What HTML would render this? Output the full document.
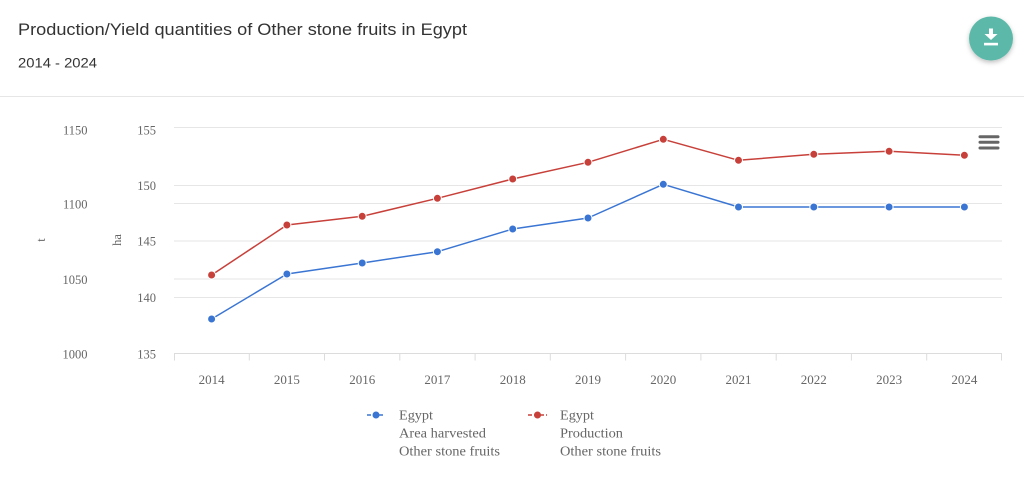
<!DOCTYPE html>
<html><head><meta charset="utf-8"><style>
html,body{margin:0;padding:0;background:#fff;}
svg{display:block;}
</style></head><body>
<svg width="1024" height="489" viewBox="0 0 1024 489" xmlns="http://www.w3.org/2000/svg">
<defs>
<filter id="sh" x="-50%" y="-50%" width="200%" height="200%"><feDropShadow dx="0" dy="2" stdDeviation="2.5" flood-color="#000" flood-opacity="0.25"/></filter>
</defs>
<rect width="1024" height="489" fill="#fff"/>
<text x="18" y="35" font-family="Liberation Sans, sans-serif" font-size="16.5" fill="#333" textLength="449" lengthAdjust="spacingAndGlyphs">Production/Yield quantities of Other stone fruits in Egypt</text>
<text x="18" y="67.5" font-family="Liberation Sans, sans-serif" font-size="13.5" fill="#333" textLength="79" lengthAdjust="spacingAndGlyphs">2014 - 2024</text>
<line x1="0" y1="96.5" x2="1024" y2="96.5" stroke="#e6e6e6" stroke-width="1"/>
<!-- download button -->
<circle cx="991" cy="38.5" r="22" fill="#5cb9a9" filter="url(#sh)"/>
<rect x="989" y="28.5" width="4" height="6" fill="#fff"/>
<polygon points="984.5,34 997.5,34 991,40" fill="#fff"/>
<rect x="984" y="42.8" width="14" height="2.6" fill="#fff"/>
<!-- gridlines -->
<g stroke="#e6e6e6" stroke-width="1">
<line x1="174" y1="127.5" x2="1002" y2="127.5"/>
<line x1="174" y1="185.5" x2="1002" y2="185.5"/>
<line x1="174" y1="203.5" x2="1002" y2="203.5"/>
<line x1="174" y1="241" x2="1002" y2="241"/>
<line x1="174" y1="279" x2="1002" y2="279"/>
<line x1="174" y1="297.5" x2="1002" y2="297.5"/>
</g>
<line x1="174" y1="353.5" x2="1002" y2="353.5" stroke="#dcdcdc" stroke-width="1"/>
<g stroke="#dcdcdc" stroke-width="1">
<line x1="174.5" y1="353.5" x2="174.5" y2="360.5"/>
<line x1="249.3" y1="353.5" x2="249.3" y2="360.5"/>
<line x1="324.5" y1="353.5" x2="324.5" y2="360.5"/>
<line x1="399.8" y1="353.5" x2="399.8" y2="360.5"/>
<line x1="475.1" y1="353.5" x2="475.1" y2="360.5"/>
<line x1="550.3" y1="353.5" x2="550.3" y2="360.5"/>
<line x1="625.6" y1="353.5" x2="625.6" y2="360.5"/>
<line x1="700.9" y1="353.5" x2="700.9" y2="360.5"/>
<line x1="776.2" y1="353.5" x2="776.2" y2="360.5"/>
<line x1="851.4" y1="353.5" x2="851.4" y2="360.5"/>
<line x1="926.7" y1="353.5" x2="926.7" y2="360.5"/>
<line x1="1001.5" y1="353.5" x2="1001.5" y2="360.5"/>
</g>
<!-- y axis labels -->
<g font-family="Liberation Serif, serif" font-size="12.5" fill="#666" text-anchor="end">
<text x="87.5" y="134.3">1150</text>
<text x="87.5" y="208.3">1100</text>
<text x="87.5" y="284">1050</text>
<text x="87.5" y="358.5">1000</text>
<text x="156" y="134.3">155</text>
<text x="156" y="190">150</text>
<text x="156" y="245.5">145</text>
<text x="156" y="302">140</text>
<text x="156" y="358.5">135</text>
</g>
<g font-family="Liberation Serif, serif" font-size="12.5" fill="#666" text-anchor="middle">
<text transform="translate(45,240) rotate(-90)">t</text>
<text transform="translate(121,240) rotate(-90)">ha</text>
</g>
<!-- x labels -->
<g font-family="Liberation Serif, serif" font-size="13" fill="#666" text-anchor="middle">
<text x="211.6" y="384">2014</text>
<text x="286.9" y="384">2015</text>
<text x="362.2" y="384">2016</text>
<text x="437.4" y="384">2017</text>
<text x="512.7" y="384">2018</text>
<text x="588" y="384">2019</text>
<text x="663.3" y="384">2020</text>
<text x="738.5" y="384">2021</text>
<text x="813.8" y="384">2022</text>
<text x="889.1" y="384">2023</text>
<text x="964.4" y="384">2024</text>
</g>
<!-- series -->
<polyline fill="none" stroke="#c8403a" stroke-width="1.5" stroke-linejoin="round" points="211.6,275 286.9,225 362.2,216.3 437.4,198.3 512.7,179 588,162.3 663.3,139.3 738.5,160.3 813.8,154.3 889.1,151.3 964.4,155.3"/>
<polyline fill="none" stroke="#3a75d3" stroke-width="1.5" stroke-linejoin="round" points="211.6,319 286.9,274 362.2,263 437.4,251.7 512.7,229 588,218 663.3,184.3 738.5,207 813.8,207 889.1,207 964.4,207"/>
<g fill="#c8403a" stroke="#fff" stroke-width="1">
<circle cx="211.6" cy="275" r="4"/><circle cx="286.9" cy="225" r="4"/><circle cx="362.2" cy="216.3" r="4"/><circle cx="437.4" cy="198.3" r="4"/><circle cx="512.7" cy="179" r="4"/><circle cx="588" cy="162.3" r="4"/><circle cx="663.3" cy="139.3" r="4"/><circle cx="738.5" cy="160.3" r="4"/><circle cx="813.8" cy="154.3" r="4"/><circle cx="889.1" cy="151.3" r="4"/><circle cx="964.4" cy="155.3" r="4"/>
</g>
<g fill="#3a75d3" stroke="#fff" stroke-width="1">
<circle cx="211.6" cy="319" r="4"/><circle cx="286.9" cy="274" r="4"/><circle cx="362.2" cy="263" r="4"/><circle cx="437.4" cy="251.7" r="4"/><circle cx="512.7" cy="229" r="4"/><circle cx="588" cy="218" r="4"/><circle cx="663.3" cy="184.3" r="4"/><circle cx="738.5" cy="207" r="4"/><circle cx="813.8" cy="207" r="4"/><circle cx="889.1" cy="207" r="4"/><circle cx="964.4" cy="207" r="4"/>
</g>
<!-- hamburger -->
<g fill="#666">
<rect x="978.5" y="135.2" width="21" height="3" rx="1.5"/>
<rect x="978.5" y="140.8" width="21" height="3" rx="1.5"/>
<rect x="978.5" y="146.5" width="21" height="3" rx="1.5"/>
</g>
<!-- legend -->
<line x1="367" y1="415" x2="385" y2="415" stroke="#3a75d3" stroke-width="1.5" stroke-dasharray="4,2"/>
<circle cx="376" cy="415" r="3.5" fill="#3a75d3"/>
<line x1="528" y1="415" x2="547" y2="415" stroke="#c8403a" stroke-width="1.5" stroke-dasharray="4,2"/>
<circle cx="537.5" cy="415" r="3.5" fill="#c8403a"/>
<g font-family="Liberation Serif, serif" font-size="14" fill="#666">
<text x="399" y="419.3" textLength="34" lengthAdjust="spacingAndGlyphs">Egypt</text>
<text x="399" y="437.7" textLength="87" lengthAdjust="spacingAndGlyphs">Area harvested</text>
<text x="399" y="455.7" textLength="101" lengthAdjust="spacingAndGlyphs">Other stone fruits</text>
<text x="560" y="419.3" textLength="34" lengthAdjust="spacingAndGlyphs">Egypt</text>
<text x="560" y="437.7" textLength="63" lengthAdjust="spacingAndGlyphs">Production</text>
<text x="560" y="455.7" textLength="101" lengthAdjust="spacingAndGlyphs">Other stone fruits</text>
</g>
</svg>
</body></html>
